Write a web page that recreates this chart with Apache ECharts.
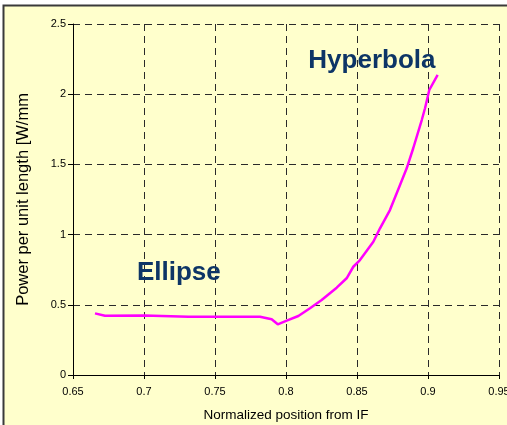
<!DOCTYPE html>
<html>
<head>
<meta charset="utf-8">
<script src="https://cdn.jsdelivr.net/npm/echarts@6/dist/echarts.min.js"></script>
<style>
  html, body { margin: 0; padding: 0; background: #ffffff; }
  #chart { width: 507px; height: 425px; }
</style>
</head>
<body>
<div id="chart"></div>
<script>
// Normalized position along the reflector (from IF)
var positions = [
  0.6655, 0.6725, 0.7002, 0.7312, 0.7488, 0.7817, 0.7899, 0.7942, 0.8005,
  0.8087, 0.8169, 0.8251, 0.8357, 0.8427, 0.8474, 0.8521, 0.8615, 0.8662,
  0.8732, 0.8803, 0.8850, 0.8896, 0.8956, 0.8979, 0.9009, 0.9068
];
// Power per unit length at each position
var power = [
  0.439, 0.422, 0.424, 0.415, 0.415, 0.415, 0.397, 0.361, 0.387,
  0.420, 0.475, 0.534, 0.622, 0.689, 0.771, 0.819, 0.949, 1.045,
  1.175, 1.353, 1.472, 1.615, 1.816, 1.900, 2.030, 2.137
];
// Region annotations: [x, y, text]
var regionLabels = [
  [0.8605, 2.24, 'Hyperbola'],
  [0.7245, 0.726, 'Ellipse']
];

var xTitle = 'Normalized position from IF';
var yTitle = 'Power per unit length [W/mm';

var chart = echarts.init(document.getElementById('chart'), null, { renderer: 'canvas' });

var fmt = function (v) { return String(parseFloat(v.toFixed(2))); };

chart.setOption({
  backgroundColor: '#ffffff',
  animation: false,
  graphic: [{
    type: 'rect',
    shape: { x: 3.5, y: 5.5, width: 520, height: 440 },
    style: { fill: '#ffffcc', stroke: '#3a3a3a', lineWidth: 2 },
    z: -10,
    silent: true
  }],
  grid: { left: 73, right: 8, top: 24, bottom: 50, containLabel: false, outerBoundsMode: 'none' },
  xAxis: {
    type: 'value',
    min: 0.65, max: 0.95, interval: 0.05,
    name: xTitle,
    nameLocation: 'middle',
    nameGap: 33,
    nameTextStyle: { fontFamily: 'Liberation Sans', fontSize: 13.5, color: '#000' },
    axisLine: { onZero: false, lineStyle: { color: '#000', width: 1 } },
    axisTick: { show: true, length: 4, lineStyle: { color: '#000' } },
    axisLabel: { formatter: fmt, fontFamily: 'Liberation Sans', fontSize: 11, color: '#000', margin: 11 },
    splitLine: { show: true, lineStyle: { color: '#2a2a2a', type: [7, 5], width: 1 } }
  },
  yAxis: {
    type: 'value',
    min: 0, max: 2.5, interval: 0.5,
    name: yTitle,
    nameLocation: 'middle',
    nameGap: 41,
    nameTextStyle: { fontFamily: 'Liberation Sans', fontSize: 16.5, color: '#000' },
    axisLine: { show: true, lineStyle: { color: '#000', width: 1 } },
    axisTick: { show: true, length: 5, lineStyle: { color: '#000' } },
    axisLabel: { formatter: fmt, fontFamily: 'Liberation Sans', fontSize: 11, color: '#000', margin: 7 },
    splitLine: { show: true, lineStyle: { color: '#2a2a2a', type: [7, 5], width: 1 } }
  },
  series: [{
    type: 'line',
    data: positions.map(function (x, i) { return [x, power[i]]; }),
    showSymbol: false,
    symbol: 'none',
    lineStyle: { color: '#ff00ff', width: 2.5 },
    z: 5,
    markPoint: {
      symbol: 'circle',
      symbolSize: 0,
      silent: true,
      label: {
        show: true,
        position: 'inside',
        formatter: function (p) { return p.name; },
        fontFamily: 'Liberation Sans',
        fontWeight: 'bold',
        fontSize: 26,
        color: '#0d3566'
      },
      data: regionLabels.map(function (r) { return { name: r[2], coord: [r[0], r[1]] }; })
    }
  }]
});
</script>
</body>
</html>
